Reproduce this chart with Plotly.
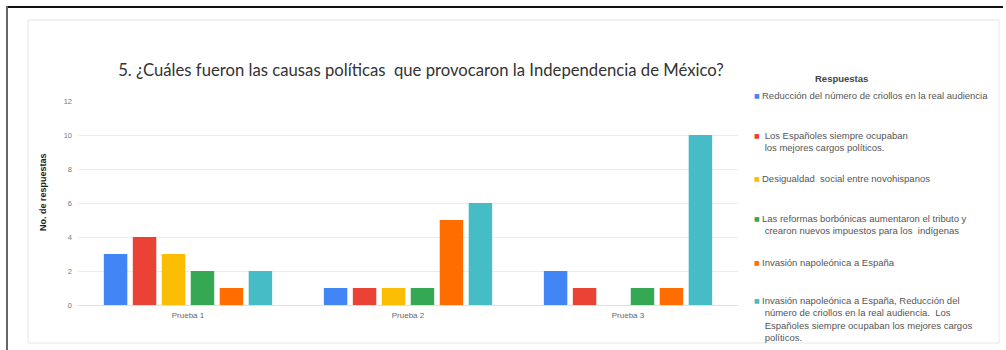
import plotly.graph_objects as go

# Survey results per test round
categories = ["Prueba 1", "Prueba 2", "Prueba 3"]

series_names = [
    "Reducción del número de criollos en la real audiencia",
    " Los Españoles siempre ocupaban<br> los mejores cargos políticos.",
    "Desigualdad  social entre novohispanos",
    "Las reformas borbónicas aumentaron el tributo y<br> crearon nuevos impuestos para los  indígenas",
    "Invasión napoleónica a España",
    "Invasión napoleónica a España, Reducción del<br> número de criollos en la real audiencia.  Los<br> Españoles siempre ocupaban los mejores cargos<br> políticos.",
]

reduccion_criollos = [3, 1, 2]
espanoles_cargos = [4, 1, 1]
desigualdad_social = [3, 1, 0]
reformas_borbonicas = [2, 1, 1]
invasion_napoleonica = [1, 5, 1]
invasion_reduccion_espanoles = [2, 6, 10]

series_values = [
    reduccion_criollos,
    espanoles_cargos,
    desigualdad_social,
    reformas_borbonicas,
    invasion_napoleonica,
    invasion_reduccion_espanoles,
]

colors = ["#4285F4", "#EA4335", "#FBBC04", "#34A853", "#FF6D01", "#46BDC6"]

y_ticks = [0, 2, 4, 6, 8, 10, 12]

W, H = 1006, 350
ML, MR, MT, MB = 78, 268, 101, 45
PW, PH = W - ML - MR, H - MT - MB


def px_x(x):
    return (x - ML) / PW


def px_y(y):
    return (H - MB - y) / PH


fig = go.Figure()
for name, vals, col in zip(series_names, series_values, colors):
    fig.add_trace(go.Bar(
        x=categories, y=vals, name=name.replace("<br>", ""),
        marker=dict(color=col, line=dict(width=0)),
        showlegend=False,
    ))

shapes = [
    # inner card
    dict(type="rect", xref="paper", yref="paper",
         x0=px_x(28), x1=px_x(999), y0=px_y(343), y1=px_y(20),
         line=dict(color="#e6e6e6", width=1), fillcolor="rgba(0,0,0,0)", layer="below"),
    # outer frame
    dict(type="line", xref="paper", yref="paper",
         x0=px_x(6), x1=px_x(1003), y0=px_y(7), y1=px_y(7),
         line=dict(color="#111111", width=2)),
    dict(type="line", xref="paper", yref="paper",
         x0=px_x(7), x1=px_x(7), y0=px_y(6), y1=px_y(352),
         line=dict(color="#666666", width=2)),
]

annotations = [
    dict(text="No. de respuestas", xref="paper", yref="paper",
         x=px_x(43), y=px_y(192), textangle=-90, showarrow=False,
         font=dict(family="Liberation Sans, Arial", size=9, color="#222222", weight="bold"),
         xanchor="center", yanchor="middle"),
    dict(text="Respuestas", xref="paper", yref="paper",
         x=px_x(842), y=px_y(78), showarrow=False,
         font=dict(family="Liberation Sans, Arial", size=9.5, color="#444444", weight="bold"),
         xanchor="center", yanchor="middle"),
]

legend_first_line_y = [95, 135, 178, 218, 262, 300]
for name, col, ly in zip(series_names, colors, legend_first_line_y):
    annotations.append(dict(
        text="■", xref="paper", yref="paper", x=px_x(757), y=px_y(ly),
        showarrow=False, xanchor="center", yanchor="middle",
        font=dict(family="DejaVu Sans", size=6, color=col)))
    annotations.append(dict(
        text=name, xref="paper", yref="paper", x=px_x(760), y=px_y(ly - 7),
        showarrow=False, xanchor="left", yanchor="top", align="left",
        font=dict(family="Liberation Sans, Arial", size=9.5, color="#555555")))

fig.update_layout(
    width=W, height=H,
    margin=dict(l=ML, r=MR, t=MT, b=MB),
    paper_bgcolor="white", plot_bgcolor="white",
    barmode="group", bargap=0.21, bargroupgap=0.19,
    title=dict(
        text="5. ¿Cuáles fueron las causas políticas  que provocaron la Independencia de México?",
        x=421 / W, xref="container", xanchor="center",
        y=1 - 70 / H, yref="container", yanchor="middle",
        font=dict(family="Lato", size=16.7, color="#333333"),
    ),
    xaxis=dict(
        showgrid=False, showline=False, zeroline=False, ticks="",
        ticklabelstandoff=4,
        tickfont=dict(family="Liberation Sans, Arial", size=8, color="#666666"),
    ),
    yaxis=dict(
        range=[0, 12], tickvals=y_ticks, ticktext=[str(v) for v in y_ticks],
        showgrid=True, gridcolor="#ececec", gridwidth=1,
        zeroline=True, zerolinecolor="#e0e0e0", zerolinewidth=1,
        showline=False, ticks="", ticklabelstandoff=5,
        tickfont=dict(family="Liberation Sans, Arial", size=7.5, color="#777777"),
    ),
    shapes=shapes,
    annotations=annotations,
    showlegend=False,
)

fig.write_html("out.html")
